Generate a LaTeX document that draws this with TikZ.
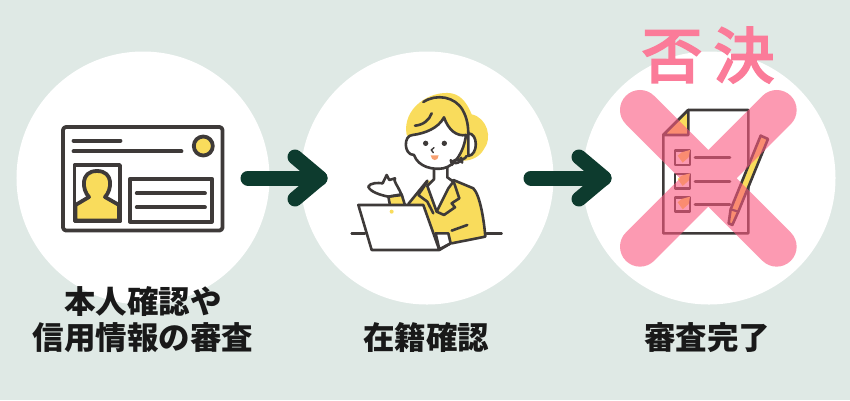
\documentclass[tikz,border=0pt]{standalone}
\usepackage{fontspec}
\newfontfamily\cjk{Noto Sans CJK JP}
\newfontfamily\cjkm[FakeBold=4]{Noto Sans CJK JP}
\definecolor{bgc}{HTML}{DFE9E5}
\definecolor{ink}{HTML}{3E3A39}
\definecolor{ylw}{HTML}{F9DC5C}
\definecolor{arrowc}{HTML}{0D3B2E}
\definecolor{pinkx}{HTML}{FB587F}
\definecolor{pinkt}{HTML}{FB7B99}
\definecolor{lips}{HTML}{F8A070}
\tikzset{
  disc/.style={circle,fill=white,minimum size=253bp,inner sep=0pt,draw=none},
  lbl/.style={font=\cjk\bfseries\fontsize{31.5bp}{36bp}\selectfont,text=black!90,align=center,inner sep=0pt},
  ttl/.style={font=\cjkm\fontsize{60bp}{60bp}\selectfont,text=pinkt,inner sep=0pt},
  flow/.style={draw=arrowc,line width=15bp,line cap=round,line join=round},
  ln/.style={draw=ink,line width=3.8bp,line cap=round,line join=round},
  thin/.style={draw=ink,line width=2.6bp,line cap=round,line join=round},
  zoomA/.style={shift={(340,80)},x=0.3333bp,y=-0.3333bp},
  zoomB/.style={shift={(610,20)},x=0.3333bp,y=-0.3333bp},
}
\begin{document}
\begin{tikzpicture}[x=1bp,y=-1bp]
\path[use as bounding box,fill=bgc] (0,0) rectangle (850,400);
\node[disc] (c1) at (143,178) {};
\node[disc] (c2) at (427,178) {};
\node[disc] (c3) at (709,178) {};
% arrows
\coordinate (a1s) at (248,178); \coordinate (a1e) at (320,178);
\coordinate (a1u) at (295,157); \coordinate (a1d) at (295,199);
\coordinate (a2s) at (531,178); \coordinate (a2e) at (604,178);
\coordinate (a2u) at (579,157); \coordinate (a2d) at (579,199);
\draw[flow] (a1s) -- (a1e); \draw[flow] (a1u) -- (a1e) -- (a1d);
\draw[flow] (a2s) -- (a2e); \draw[flow] (a2u) -- (a2e) -- (a2d);
% ID card
\draw[ln,rounded corners=3bp] (63,127) rectangle (222.5,230.5);
\draw[ln] (73.5,140.7) -- (120.5,140.7);
\draw[ln] (73.5,151.3) -- (181.5,151.3);
\draw[ln,fill=ylw] (203.3,146) circle (9.5);
\draw[ln] (74.5,165) rectangle (120,221.5);
\draw[ln,fill=ylw]
  (75.5,220.5) -- (75.5,205) -- (89,197) .. controls (82,190) and (80,171) .. (97,171)
  .. controls (114,171) and (112,190) .. (105,197) -- (119,205) -- (119,220.5) -- cycle;
\draw[ln] (130,178.7) rectangle (211.7,221.7);
\draw[ln] (136.7,193.3) -- (205,193.3);
\draw[ln] (136.7,207.3) -- (205,207.3);
% operator
\begin{scope}[zoomA]
\fill[ylw] (200,165) .. controls (185,85) and (270,30) .. (335,40)
  .. controls (370,47) and (385,80) .. (395,103)
  .. controls (442,113) and (458,175) .. (432,207)
  .. controls (420,230) and (395,242) .. (370,242) -- (250,200) -- cycle;
% jacket
\fill[ylw] (262,302) -- (205,375) -- (290,480) -- (335,490) -- (435,470)
  .. controls (430,400) and (420,340) .. (395,322) -- (340,300) -- cycle;
\fill[ylw] (145,350) -- (185,343) -- (195,376) -- (150,376) -- cycle;
\draw[thin,fill=white] (282,262) -- (282,298) -- (262,318) -- (290,395) -- (325,325) -- (340,305) -- (322,292) -- (322,258);
% face
\draw[thin,fill=white] (218,165) .. controls (190,165) and (190,225) .. (222,225)
  .. controls (235,262) and (280,270) .. (310,265)
  .. controls (345,258) and (372,215) .. (378,165)
  .. controls (350,170) and (325,150) .. (312,112)
  .. controls (295,145) and (255,160) .. (218,165) -- cycle;
\draw[thin] (225,137) .. controls (250,135) and (268,120) .. (275,100);
\draw[thin] (250,66) .. controls (290,40) and (345,50) .. (368,90) .. controls (382,115) and (385,140) .. (385,165);
\draw[thin,fill=white] (385,160) .. controls (415,160) and (415,225) .. (385,228) -- cycle;
\draw[thin] (380,228) .. controls (375,238) and (365,240) .. (352,240);
\draw[thin,fill=white,rounded corners=4bp] (333,243) -- (364,236) -- (366,245) -- (336,252) -- cycle;
\fill[ink] (257,190) circle (8); \fill[ink] (313,190) circle (8);
\draw[line width=1.4bp,draw=ink,line cap=round] (282,203) -- (274,210) -- (280,218);
\fill[lips] (272,226) -- (296,226) .. controls (295,245) and (274,245) .. (272,226) -- cycle;
% jacket lines
\draw[thin] (262,302) -- (205,372);
\draw[thin] (262,305) -- (235,345) -- (262,365) -- (280,400);
\draw[thin] (340,300) -- (400,325) .. controls (420,345) and (432,420) .. (436,470) -- (335,490);
\draw[thin] (340,302) -- (358,355) -- (335,370) -- (345,382) -- (312,405);
\draw[thin] (290,395) -- (312,405);
\draw[thin] (335,452) -- (382,435);
\draw[thin,fill=white] (287,460) -- (325,460) -- (332,490) -- (298,508) -- cycle;
% hand
\draw[thin,fill=white] (145,350) .. controls (120,345) and (90,335) .. (85,320)
  .. controls (90,308) and (115,308) .. (128,310) -- (140,285) -- (148,300) -- (165,295)
  .. controls (160,305) and (170,310) .. (185,345) -- cycle;
\draw[thin] (145,350) -- (185,343) -- (195,376);
\draw[thin] (145,350) -- (150,376);
% desk + laptop
\draw[thin] (35,460) -- (75,460);
\draw[thin] (440,460) -- (485,460);
\draw[thin,fill=white] (55,375) -- (250,375) -- (298,510) -- (95,510) -- cycle;
\draw[thin] (298,510) -- (332,490);
\fill[ylw] (155,395) circle (6);
\end{scope}
% checklist
\begin{scope}[zoomB]
\draw[thin,fill=white] (235,270) -- (415,270) -- (415,640) -- (160,640) -- (160,345) -- cycle;
\draw[thin,fill=ylw] (235,270) -- (160,345) -- (235,345) -- cycle;
\foreach \yy in {392,462,532}{
  \draw[thin,line width=2.8bp] (195,\yy) rectangle (240,\yy+43);
  \fill[ylw] (203,\yy+15) -- (215,\yy+5) -- (240,\yy-2) -- (236,\yy+20) -- (218,\yy+36) -- cycle;
}
\draw[thin] (255,412) -- (360,412);
\draw[thin] (255,484) -- (360,484);
\draw[thin] (255,554) -- (360,554);
\draw[thin,fill=ylw] (452,347) -- (474,357) -- (385,575) -- (367,615) -- (356,610) -- (362,568) -- cycle;
\draw[thin,line width=2.2bp] (362,568) -- (385,575);
% cross
\begin{scope}[transparency group,opacity=0.6]
\draw[line width=40bp,draw=pinkx,line cap=round] (90,270) -- (500,680) (500,270) -- (90,680);
\end{scope}
\end{scope}
% labels
\node[lbl] (t1) at (143,320) {本人確認や\\信用情報の審査};
\node[lbl] (t2) at (426,338) {在籍確認};
\node[lbl] (t3) at (707,338) {審査完了};
\node[ttl] (t4) at (708,55) {否\hspace{12bp}決};
\end{tikzpicture}
\end{document}
